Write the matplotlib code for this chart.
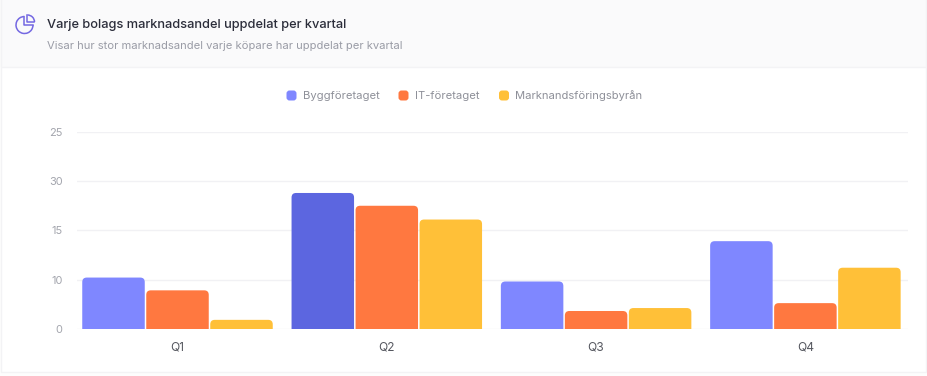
import matplotlib
matplotlib.use("Agg")
import matplotlib.pyplot as plt
import numpy as np
from matplotlib.patches import FancyBboxPatch, Rectangle, Arc
from matplotlib.lines import Line2D

title = "Varje bolags marknadsandel uppdelat per kvartal"
subtitle = "Visar hur stor marknadsandel varje köpare har uppdelat per kvartal"
quarters = ["Q1", "Q2", "Q3", "Q4"]
series_names = ["Byggföretaget", "IT-företaget", "Marknandsföringsbyrån"]
bygg = [5.2, 13.8, 4.8, 8.9]
it_bolag = [3.9, 12.5, 1.8, 2.6]
marknad = [0.9, 11.1, 2.1, 6.2]
tick_positions = [0, 5, 10, 15, 20]
tick_labels = ["0", "10", "15", "30", "25"]

W, H = 928, 376
BLUE, BLUE_DARK, ORANGE, YELLOW = "#7F87FF", "#5C66E0", "#FF7840", "#FFC038"
plt.rcParams["font.family"] = ["Inter", "DejaVu Sans"]
fig = plt.figure(figsize=(W / 100, H / 100), dpi=100, facecolor="#FDFDFD")
px = lambda v: v * 0.72

# page furniture in pixel coordinates
bg = fig.add_axes([0, 0, 1, 1])
bg.set_xlim(0, W)
bg.set_ylim(H, 0)
bg.axis("off")
bg.add_patch(Rectangle((1, -2), 925, 374, fc="white", ec="#F3F3F5", lw=1))
bg.add_patch(Rectangle((1, -2), 925, 68.5, fc="#FAFAFB", ec="#F3F3F5", lw=1))
ICON = "#7468E2"
bg.add_patch(Arc((24.5, 25), 17, 17, theta1=0, theta2=270, color=ICON, lw=1.1))
bg.add_line(Line2D([24.5, 24.5, 33], [16.5, 25, 25], color=ICON, lw=1.1))
bg.add_patch(Arc((27.5, 22), 14, 14, theta1=270, theta2=360, color=ICON, lw=1.1))
bg.add_line(Line2D([27.5, 27.5, 34.5], [15, 22, 22], color=ICON, lw=1.1))
bg.text(47, 25, title, fontsize=px(12.8), fontweight="medium", color="#2B2D3A", va="center")
bg.text(47, 46, subtitle, fontsize=px(11.2), color="#9A9CA6", va="center")

legend_x = [286.5, 398.5, 499]
text_x = [303, 415, 515]
for lx, tx, name, col in zip(legend_x, text_x, series_names, [BLUE, ORANGE, YELLOW]):
    bg.add_patch(FancyBboxPatch((lx, 90.5), 10, 10, boxstyle="round,pad=0,rounding_size=3", fc=col, ec="none"))
    bg.text(tx, 96, name, fontsize=px(11.2), color="#8E9099", va="center")

# chart
x0, x1, ytop, ybot = 77, 908, 132, 328.7
ax = fig.add_axes([x0 / W, 1 - ybot / H, (x1 - x0) / W, (ybot - ytop) / H])
ax.patch.set_alpha(0)
group = 209.3
ax.set_xlim((x0 - 177.5) / group, (x1 - 177.5) / group)
ax.set_ylim(0, 20)
ax.set_yticks(tick_positions, tick_labels)
ax.set_xticks(np.arange(len(quarters)), quarters)
ax.grid(axis="y", color="#F1F1F4", lw=1)
ax.set_axisbelow(True)
ax.tick_params(axis="y", length=0, pad=10.5, labelsize=px(11), labelcolor="#A3A5AD")
ax.tick_params(axis="x", length=0, pad=9, labelsize=px(12), labelcolor="#55575F")
for s in ax.spines.values():
    s.set_visible(False)

xscale = group
yscale = (ybot - ytop) / 20
width, step = 62.5 / group, 64 / group
radius_px = 4.5
for j, (vals, col) in enumerate(zip([bygg, it_bolag, marknad], [BLUE, ORANGE, YELLOW])):
    for i, v in enumerate(vals):
        c = BLUE_DARK if (j == 0 and i == 1) else col
        depth = radius_px / yscale
        ax.add_patch(FancyBboxPatch(
            (i + (j - 1) * step - width / 2, -depth), width, v + depth,
            boxstyle=f"round,pad=0,rounding_size={radius_px / xscale}",
            mutation_aspect=xscale / yscale, fc=c, ec="none", zorder=3))

fig.savefig("out.png", dpi=100, facecolor=fig.get_facecolor())
